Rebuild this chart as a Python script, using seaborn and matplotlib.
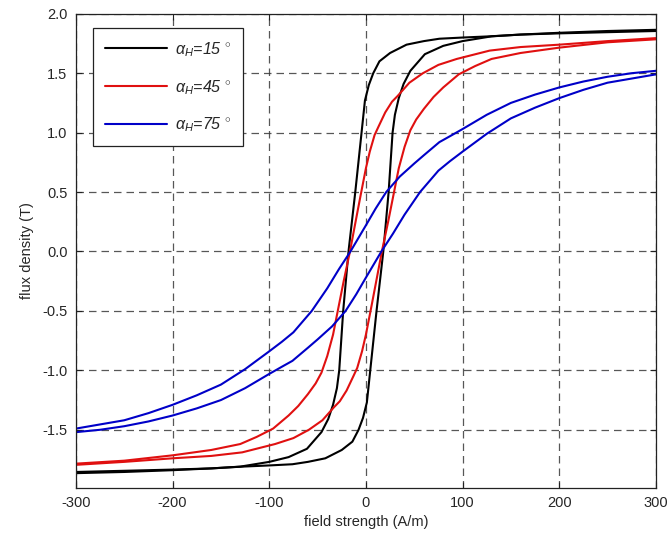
import matplotlib
matplotlib.use("Agg")
import matplotlib.pyplot as plt
import seaborn as sns

# ---- data ----
angles = [15, 45, 75]
colors = ["#000000", "#e01010", "#0000c8"]

# alpha_H = 15 deg : descending (upper) and ascending (lower) branches
H_k_up = [-300, -250, -200, -160, -130, -100, -80, -61, -46, -39, -34, -30, -27.6, -23.5, -18, -11, -4.5, -1, 3, 7.6, 14, 25, 42, 60, 76, 100, 128, 160, 200, 250, 300]
B_k_up = [-1.855, -1.845, -1.835, -1.825, -1.81, -1.77, -1.73, -1.66, -1.52, -1.41, -1.29, -1.15, -1.0, -0.5, 0.0, 0.5, 1.0, 1.27, 1.40, 1.50, 1.60, 1.67, 1.74, 1.77, 1.79, 1.80, 1.81, 1.825, 1.84, 1.855, 1.865]
H_k_lo = [-300, -250, -200, -160, -128, -100, -76, -60, -42, -25, -14, -7.6, -3, 1, 4.5, 11, 18, 23.5, 27.6, 30, 34, 39, 46, 61, 80, 100, 130, 160, 200, 250, 300]
B_k_lo = [-1.865, -1.855, -1.84, -1.825, -1.81, -1.80, -1.79, -1.77, -1.74, -1.67, -1.60, -1.50, -1.40, -1.27, -1.0, -0.5, 0.0, 0.5, 1.0, 1.15, 1.29, 1.41, 1.52, 1.66, 1.73, 1.77, 1.81, 1.825, 1.835, 1.845, 1.855]

# alpha_H = 45 deg
H_r_up = [-300, -250, -200, -160, -130, -113, -96, -80, -70, -60, -52, -46, -40, -34, -29.6, -23, -16.5, -11.4, -6, 0, 4, 9, 13, 20, 27, 33, 45, 59, 75, 94, 128, 160, 200, 250, 300]
B_r_up = [-1.785, -1.76, -1.715, -1.67, -1.62, -1.56, -1.49, -1.38, -1.30, -1.20, -1.11, -1.02, -0.88, -0.70, -0.52, -0.25, 0.0, 0.22, 0.45, 0.70, 0.84, 0.98, 1.05, 1.17, 1.26, 1.31, 1.42, 1.50, 1.57, 1.62, 1.69, 1.72, 1.74, 1.77, 1.795]
H_r_lo = [-300, -250, -200, -160, -128, -94, -75, -59, -45, -33, -27, -20, -13, -9, -4, 0, 6, 11.4, 16.5, 23, 29.6, 34, 40, 46, 52, 60, 70, 80, 96, 113, 130, 160, 200, 250, 300]
B_r_lo = [-1.795, -1.77, -1.74, -1.72, -1.69, -1.62, -1.57, -1.50, -1.42, -1.31, -1.26, -1.17, -1.05, -0.98, -0.84, -0.70, -0.45, -0.22, 0.0, 0.25, 0.52, 0.70, 0.88, 1.02, 1.11, 1.20, 1.30, 1.38, 1.49, 1.56, 1.62, 1.67, 1.715, 1.76, 1.785]

# alpha_H = 75 deg
H_b_up = [-300, -275, -250, -225, -200, -175, -150, -125, -100, -87, -75, -56, -40, -28, -16, -8, 0, 10, 21, 35, 50, 60, 76, 87, 100, 125, 150, 175, 200, 225, 250, 275, 300]
B_b_up = [-1.49, -1.455, -1.42, -1.36, -1.29, -1.21, -1.12, -0.99, -0.84, -0.76, -0.68, -0.50, -0.31, -0.15, 0.0, 0.11, 0.22, 0.36, 0.50, 0.63, 0.74, 0.81, 0.92, 0.97, 1.03, 1.15, 1.25, 1.32, 1.38, 1.43, 1.47, 1.50, 1.52]
H_b_lo = [-300, -275, -250, -225, -200, -175, -150, -125, -100, -87, -76, -60, -50, -35, -21, -10, 0, 8, 16, 28, 40, 56, 75, 87, 100, 125, 150, 175, 200, 225, 250, 275, 300]
B_b_lo = [-1.52, -1.50, -1.47, -1.43, -1.38, -1.32, -1.25, -1.15, -1.03, -0.97, -0.92, -0.81, -0.74, -0.63, -0.50, -0.36, -0.22, -0.11, 0.0, 0.15, 0.31, 0.50, 0.68, 0.76, 0.84, 0.99, 1.12, 1.21, 1.29, 1.36, 1.42, 1.455, 1.49]

x_ticks = [-300, -200, -100, 0, 100, 200, 300]
y_ticks = [-1.5, -1.0, -0.5, 0.0, 0.5, 1.0, 1.5, 2.0]
x_label = "field strength (A/m)"
y_label = "flux density (T)"

branches = [
    (H_k_up, B_k_up, H_k_lo, B_k_lo),
    (H_r_up, B_r_up, H_r_lo, B_r_lo),
    (H_b_up, B_b_up, H_b_lo, B_b_lo),
]

sns.set_style("white")
plt.rcParams["font.family"] = ["Liberation Sans", "DejaVu Sans"]
plt.rcParams["mathtext.fontset"] = "custom"
plt.rcParams["mathtext.it"] = "Liberation Sans:italic"
plt.rcParams["mathtext.rm"] = "Liberation Sans"

fig = plt.figure(figsize=(6.72, 5.42), dpi=100)
ax = fig.add_axes([0.113, 0.0996, 0.863, 0.875])

for ang, col, (hu, bu, hl, bl) in zip(angles, colors, branches):
    lab = r"$\alpha_{H}$" + "=%d " % ang + r"$^{\circ}$"
    sns.lineplot(x=hu, y=bu, sort=False, color=col, lw=1.5, ax=ax, label=lab)
    sns.lineplot(x=hl, y=bl, sort=False, color=col, lw=1.5, ax=ax)

ax.set_xlim(-300, 300)
ax.set_ylim(-1.99, 2.0)
ax.set_xticks(x_ticks)
ax.set_xticklabels([str(t) for t in x_ticks])
ax.set_yticks(y_ticks)
ax.set_yticklabels(["%.1f" % t for t in y_ticks])

ax.grid(True, color="#3a3a3a", linestyle=(0, (6, 4)), linewidth=0.9, alpha=0.85)
ax.set_axisbelow(True)
for s in ax.spines.values():
    s.set_visible(True)
    s.set_color("#222222")
    s.set_linewidth(0.9)
ax.tick_params(direction="in", length=4, width=0.8, color="#222222",
               labelsize=10.5, labelcolor="#262626", top=True, right=True,
               bottom=True, left=True, pad=6)

ax.set_xlabel(x_label, fontsize=10.5, color="#262626", labelpad=3)
ax.set_ylabel(y_label, fontsize=10.5, color="#262626", labelpad=6)

leg = ax.legend(loc="upper left", bbox_to_anchor=(0.029, 0.97), frameon=True,
                fancybox=False, edgecolor="#222222", fontsize=11.5,
                handlelength=3.9, handletextpad=0.5, labelspacing=1.2,
                borderpad=0.75, borderaxespad=0)
leg.get_frame().set_linewidth(0.9)
leg.get_frame().set_facecolor("white")
leg.get_frame().set_alpha(1)
for t in leg.get_texts():
    t.set_fontstyle("italic")

fig.savefig("out.png", dpi=100, facecolor="white")
